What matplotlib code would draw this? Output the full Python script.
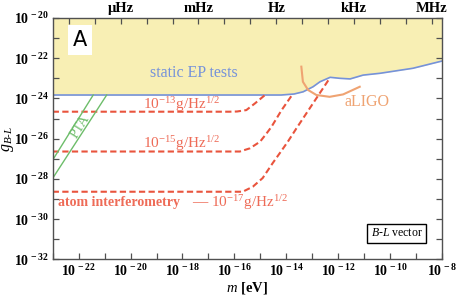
import numpy as np
import matplotlib
matplotlib.use("Agg")
import matplotlib.pyplot as plt
from matplotlib.ticker import FixedLocator, NullFormatter

plt.rcParams['font.family'] = ['Liberation Serif', 'DejaVu Serif']
plt.rcParams['mathtext.fontset'] = 'custom'
plt.rcParams['mathtext.rm'] = 'Liberation Serif'
plt.rcParams['mathtext.it'] = 'Liberation Serif:italic'
plt.rcParams['mathtext.bf'] = 'Liberation Serif:bold'

# ---- data (log10 values) ----
ep_logm = [-23.0, -14.2, -13.7, -13.35, -12.97, -12.7, -12.31, -11.93, -11.54, -11.04, -10.39, -9.12, -8.0]
ep_logg = [-23.83, -23.83, -23.78, -23.67, -23.42, -23.17, -22.95, -23.0, -23.03, -22.84, -22.75, -22.5, -22.14]

ai13_logm = [-23.0, -16.2, -15.9, -15.54, -15.2, -14.82]
ai13_logg = [-24.66, -24.66, -24.65, -24.58, -24.24, -23.83]

ai15_logm = [-23.0, -15.79, -15.4, -15.01, -14.76, -14.57, -14.18, -13.75]
ai15_logg = [-26.64, -26.64, -26.48, -26.15, -25.74, -25.41, -24.58, -23.78]

ai17_logm = [-23.0, -15.68, -15.29, -14.91, -14.52, -14.25, -13.94, -13.61, -12.33]
ai17_logg = [-28.64, -28.64, -28.39, -27.96, -27.21, -26.72, -26.15, -25.49, -23.0]

ligo_logm = [-13.42, -13.36, -13.16, -12.84, -12.33, -11.81, -11.17]
ligo_logg = [-22.42, -23.17, -23.58, -23.83, -23.92, -23.80, -23.42]

pta1_logm = [-23.0, -21.44]
pta1_logg = [-27.06, -23.83]
pta2_logm = [-23.0, -20.92]
pta2_logg = [-27.97, -23.83]

x_ticks = [-22, -20, -18, -16, -14, -12, -10, -8]
y_ticks = [-32, -30, -28, -26, -24, -22, -20]
freq_ticks = [1e-6, 1e-3, 1.0, 1e3, 1e6]
freq_labels = ['μHz', 'mHz', 'Hz', 'kHz', 'MHz']
eV_to_Hz = 2.418e14

def p(a):
    return 10.0 ** np.asarray(a)

fig = plt.figure(figsize=(4.57, 2.99), dpi=100)
L, R, T, B = 52.7, 442.0, 18.0, 259.3
ax = fig.add_axes([L / 457, 1 - B / 299, (R - L) / 457, (B - T) / 299])
ax.set_xscale('log')
ax.set_yscale('log')
ax.set_xlim(1e-23, 1e-8)
ax.set_ylim(1e-32, 1e-20)

yellow = '#f8efb4'
blue = '#7592da'
red = '#e9543d'
red_txt = '#ee6b57'
green = '#6dbd6a'
orange = '#efa372'

ax.fill_between(p(ep_logm), p(ep_logg), 1e-20, color=yellow, lw=0, zorder=1)
ax.plot(p(ep_logm), p(ep_logg), color=blue, lw=1.2, zorder=3)

for xm, yg in [(ai13_logm, ai13_logg), (ai15_logm, ai15_logg), (ai17_logm, ai17_logg)]:
    ax.plot(p(xm), p(yg), color=red, lw=1.5, dashes=(3.0, 1.6), zorder=4)

ax.plot(p(ligo_logm), p(ligo_logg), color=orange, lw=1.5, zorder=4)
ax.plot(p(pta1_logm), p(pta1_logg), color=green, lw=1.0, zorder=4)
ax.plot(p(pta2_logm), p(pta2_logg), color=green, lw=1.0, zorder=4)

# texts
ax.text(p(-19.25), p(-22.74), 'static EP tests', color=blue, fontsize=11.5, ha='left', va='center', zorder=5)
ax.text(p(-19.53), p(-24.28), r'$10^{-13}$g/Hz$^{1/2}$', color=red_txt, fontsize=11, ha='left', va='center', zorder=5)
ax.text(p(-19.53), p(-26.22), r'$10^{-15}$g/Hz$^{1/2}$', color=red_txt, fontsize=11, ha='left', va='center', zorder=5)
ax.text(p(-22.81), p(-29.2), 'atom interferometry', color=red_txt, fontsize=10, fontweight='bold', ha='left', va='center', zorder=5)
ax.text(p(-17.63), p(-29.2), r'— $10^{-17}$g/Hz$^{1/2}$', color=red_txt, fontsize=11, ha='left', va='center', zorder=5)
ax.text(p(-11.75), p(-24.18), 'aLIGO', color=orange, fontsize=11.5, ha='left', va='center', zorder=5)
ax.text(p(-21.93), p(-25.42), 'PTA', color=green, fontsize=10, ha='center', va='center', rotation=58, zorder=5)

ax.text(0.070, 0.909, 'A', transform=ax.transAxes, fontsize=15, family='DejaVu Sans',
        ha='center', va='center', zorder=6,
        bbox=dict(boxstyle='square,pad=0.25', fc='white', ec='none'))
ax.text(0.883, 0.107, r'$\it{B}$-$\it{L}$ vector', transform=ax.transAxes, fontsize=8.5,
        ha='center', va='center', zorder=6,
        bbox=dict(boxstyle='square,pad=0.3', fc='white', ec='black', lw=1.0))

# axes styling
for s in ax.spines.values():
    s.set_color('#505050')
    s.set_linewidth(1.0)
    s.set_zorder(7)

ax.xaxis.set_major_locator(FixedLocator([10.0 ** k for k in x_ticks]))
ax.xaxis.set_minor_locator(FixedLocator([10.0 ** k for k in range(-23, -7)]))
ax.xaxis.set_minor_formatter(NullFormatter())
ax.set_xticklabels([r'$\mathbf{10^{\,%d}}$' % k for k in x_ticks])
ax.yaxis.set_major_locator(FixedLocator([10.0 ** k for k in y_ticks]))
ax.yaxis.set_minor_locator(FixedLocator([10.0 ** k for k in range(-32, -19)]))
ax.yaxis.set_minor_formatter(NullFormatter())
ax.set_yticklabels([r'$\mathbf{10^{\,%d}}$' % k for k in y_ticks])
ax.tick_params(which='both', direction='in', top=False, right=True, labelsize=10, color='#505050', pad=3)
ax.tick_params(which='major', length=4, width=0.9)
ax.tick_params(which='minor', length=4, width=0.9)

ax2 = ax.twiny()
ax2.set_xscale('log')
ax2.set_xlim(1e-23 * eV_to_Hz, 1e-8 * eV_to_Hz)
ax2.xaxis.set_major_locator(FixedLocator(freq_ticks))
ax2.xaxis.set_minor_locator(FixedLocator([10.0 ** k for k in range(-9, 7)]))
ax2.xaxis.set_minor_formatter(NullFormatter())
ax2.set_xticklabels(freq_labels, fontweight='bold')
ax2.tick_params(which='both', direction='in', labelsize=10.5, color='#505050', length=4, width=0.9, pad=2)
for s in ax2.spines.values():
    s.set_visible(False)

ax.set_xlabel(r'$\it{m}$ [eV]', fontsize=10.5, fontweight='bold')
ax.xaxis.set_label_coords(0.5, -0.085)
ax.set_ylabel(r'$g_{B\text{-}L}$', fontsize=11.5)
ax.yaxis.set_label_coords(-0.095, 0.5)

fig.savefig('out.png', dpi=100)
